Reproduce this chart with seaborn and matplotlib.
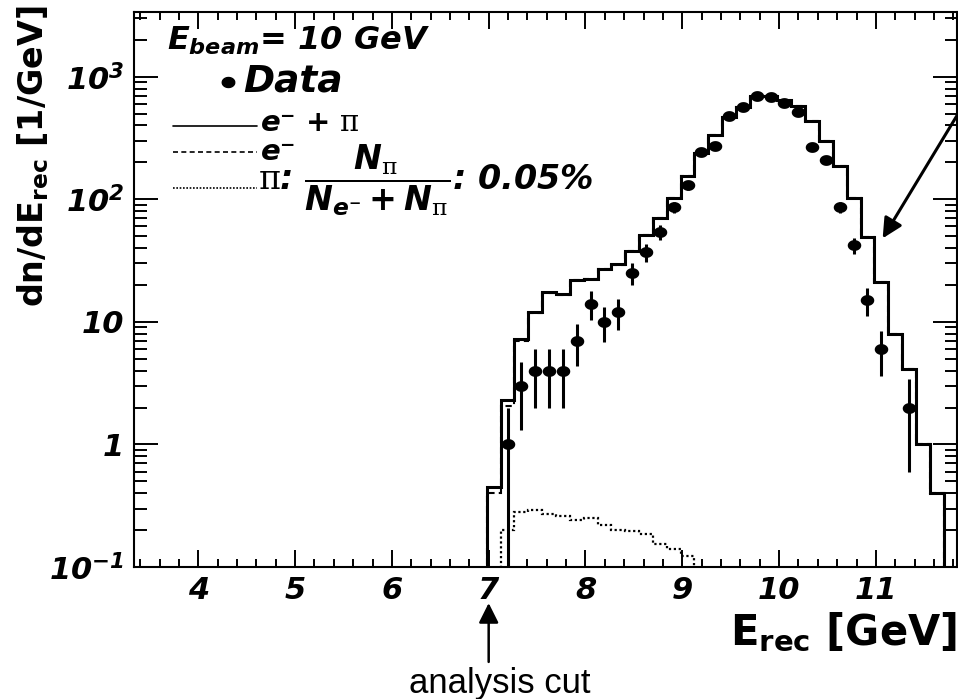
import numpy as np
import matplotlib
matplotlib.use("Agg")
import matplotlib.pyplot as plt
import seaborn as sns
from matplotlib.ticker import MultipleLocator, LogLocator, NullFormatter

# binning of the reconstructed energy [GeV]
bin_lo, bin_hi, n_bins = 6.98, 11.70, 33

# simulation: e- + pi (solid), e- only (dashed), pi only (dotted)
mc_total = [0.45, 2.3, 7.3, 12.0, 17.5, 17.0, 22.0, 22.5, 27, 29.5, 38,
            51, 70, 103, 154, 240, 333, 470, 567, 700, 700, 643, 574, 433,
            299, 186, 103, 49, 21, 8.0, 4.15, 1.0, 0.40]
mc_electron = [0.40, 2.05, 7.0, 11.7, 17.2, 16.7, 21.8, 22.2, 26.8, 29.3, 37.8,
               50.8, 69.8, 103, 154, 240, 333, 470, 567, 700, 700, 643, 574, 433,
               299, 186, 103, 49, 21, 8.0, 4.15, 1.0, 0.40]
mc_pion = [0, 0.20, 0.28, 0.29, 0.27, 0.26, 0.24, 0.25, 0.22, 0.20, 0.195,
           0.185, 0.155, 0.14, 0.124, 0, 0, 0, 0, 0, 0, 0, 0, 0,
           0, 0, 0, 0, 0, 0, 0, 0, 0]

# measured data (0 = empty bin) and its errors
data_counts = [0, 1, 3, 4, 4, 4, 7, 14, 10, 12, 25, 37, 54, 86, 130, 242, 271,
               476, 567, 693, 685, 611, 516, 267, 211, 86, 42, 15, 6, 0, 2, 0, 0]
data_err = [0, 1, 1.7, 2, 2, 2, 2.6, 3.7, 3.2, 3.5, 5, 6.1, 7.3, 9.3, 11.4, 15.6,
            16.5, 21.8, 23.8, 26.3, 26.2, 24.7, 22.7, 16.3, 14.5, 9.3, 6.5, 3.9,
            2.4, 0, 1.4, 0, 0]

x_ticks = [4, 5, 6, 7, 8, 9, 10, 11]
x_ticklabels = ["4", "5", "6", "7", "8", "9", "10", "11"]
y_ticks = [0.1, 1, 10, 100, 1000]
y_ticklabels = [r"10$^{-1}$", "1", "10", r"10$^{2}$", r"10$^{3}$"]

cut_energy = 7.0
arrow_tip = (11.07, 48)
arrow_tail = (11.84, 485)

sns.set_theme(style="ticks")
plt.rcParams["font.family"] = ["DejaVu Sans"]
plt.rcParams["font.weight"] = "bold"
plt.rcParams["font.style"] = "italic"
plt.rcParams["text.color"] = "black"
plt.rcParams["axes.labelcolor"] = "black"
plt.rcParams["mathtext.fontset"] = "custom"
plt.rcParams["mathtext.rm"] = "DejaVu Sans:style=italic:weight=bold"
plt.rcParams["mathtext.it"] = "DejaVu Sans:style=italic:weight=bold"
plt.rcParams["mathtext.bf"] = "DejaVu Sans:style=normal:weight=bold"
plt.rcParams["mathtext.sf"] = "DejaVu Serif:style=normal:weight=normal"

edges = np.linspace(bin_lo, bin_hi, n_bins + 1)
centers = 0.5 * (edges[:-1] + edges[1:])
counts = np.array(data_counts, dtype=float)
errs = np.array(data_err, dtype=float)
has = counts > 0

fig = plt.figure(figsize=(9.58, 6.99), dpi=100)
ax = fig.add_axes([134 / 958, 132 / 699, 823 / 958, 555 / 699])
ax.set_yscale("log")

ax.stairs(mc_total, edges, baseline=0, color="black", lw=2.2, zorder=3)
ax.stairs(mc_electron, edges, baseline=0, color="black", lw=1.5,
          ls=(0, (3, 2)), zorder=2)
ax.stairs(mc_pion, edges, baseline=0, color="black", lw=1.6,
          ls=(0, (1, 1.2)), zorder=2)

# data points (slightly flattened dots)
t = np.linspace(0, 2 * np.pi, 40)
oval = np.column_stack([np.cos(t), 0.8 * np.sin(t)])
ax.errorbar(centers[has], counts[has], yerr=errs[has], fmt="none",
            ecolor="black", elinewidth=2.2, capsize=0, zorder=4)
sns.scatterplot(x=centers[has], y=counts[has], marker=oval, s=95,
                color="black", edgecolor="black", linewidth=0, ax=ax,
                legend=False, zorder=5)

ax.set_xlim(3.336, 11.838)
ax.set_ylim(0.1, 3370)
ax.set_xticks(x_ticks, x_ticklabels)
ax.set_yticks(y_ticks, y_ticklabels)
ax.xaxis.set_minor_locator(MultipleLocator(0.2))
ax.yaxis.set_minor_locator(LogLocator(base=10, subs=np.arange(2, 10)))
ax.yaxis.set_minor_formatter(NullFormatter())
ax.tick_params(which="both", direction="in", top=True, right=True,
               color="black", width=1.4, labelsize=22, labelcolor="black")
ax.tick_params(axis="x", which="major", length=12, pad=6.5)
ax.tick_params(axis="x", which="minor", length=6)
ax.tick_params(axis="y", which="major", length=17, pad=7)
ax.tick_params(axis="y", which="minor", length=9)
for s in ax.spines.values():
    s.set_linewidth(1.5)
    s.set_color("black")

ax.set_xlabel(r"$\mathbf{E}_{\mathbf{rec}}$ [GeV]", fontsize=30,
              fontweight="bold", style="normal")
ax.xaxis.set_label_coords(1.0, -0.1405)
ax.xaxis.label.set_ha("right")
ax.xaxis.label.set_va("baseline")
ax.set_ylabel(r"dn/d$\mathbf{E}_{\mathbf{rec}}$ [1/GeV]", fontsize=24,
              fontweight="bold", style="normal")
ax.yaxis.set_label_coords(-0.122, 0.74)
ax.yaxis.label.set_ha("center")
ax.yaxis.label.set_va("center")

# legend block
ax.text(0.0401, 0.9315, r"$E_{beam}$= 10 GeV", transform=ax.transAxes,
        fontsize=23, va="baseline", ha="left")
ax.plot([0.1142], [0.8739], transform=ax.transAxes, marker=oval, ms=9,
        color="black", ls="none", clip_on=False)
ax.text(0.1324, 0.8559, "Data", transform=ax.transAxes, fontsize=27,
        va="baseline", ha="left")
ax.plot([0.0474, 0.1495], [0.7946, 0.7946], transform=ax.transAxes,
        color="black", lw=1.2)
ax.text(0.1531, 0.7850, "$e$\u207b + $\\mathsf{\\pi}$",
        transform=ax.transAxes, fontsize=21, va="baseline", ha="left")
ax.plot([0.0474, 0.1495], [0.7477, 0.7477], transform=ax.transAxes,
        color="black", lw=1.2, ls=(0, (3, 2)))
ax.text(0.1531, 0.7330, "$e$\u207b", transform=ax.transAxes,
        fontsize=21, va="baseline", ha="left")
ax.plot([0.0474, 0.1495], [0.6829, 0.6829], transform=ax.transAxes,
        color="black", lw=1.2, ls=(0, (1, 1)))
ax.text(0.1507, 0.6973,
        "$\\mathsf{\\pi}$: $\\dfrac{N_{\\mathsf{\\pi}}}{N_{e\u207b}+N_{\\mathsf{\\pi}}}$: 0.05%",
        transform=ax.transAxes, fontsize=24, va="center", ha="left")

# analysis cut marker
ax.annotate("", xy=(cut_energy, -0.065), xycoords=("data", "axes fraction"),
            xytext=(cut_energy, -0.171), textcoords=("data", "axes fraction"),
            arrowprops=dict(arrowstyle="-|>", color="black", lw=1.8,
                            mutation_scale=30, shrinkA=0, shrinkB=0),
            annotation_clip=False)
ax.text(0.4447, -0.227, "analysis cut", transform=ax.transAxes,
        ha="center", va="baseline", fontsize=25, fontweight="normal",
        style="normal", family="Liberation Sans")

ax.annotate("", xy=arrow_tip, xytext=arrow_tail,
            arrowprops=dict(arrowstyle="-|>", color="black", lw=2.2,
                            mutation_scale=30, shrinkA=0, shrinkB=0),
            annotation_clip=False)

fig.savefig("out.png", dpi=100)
